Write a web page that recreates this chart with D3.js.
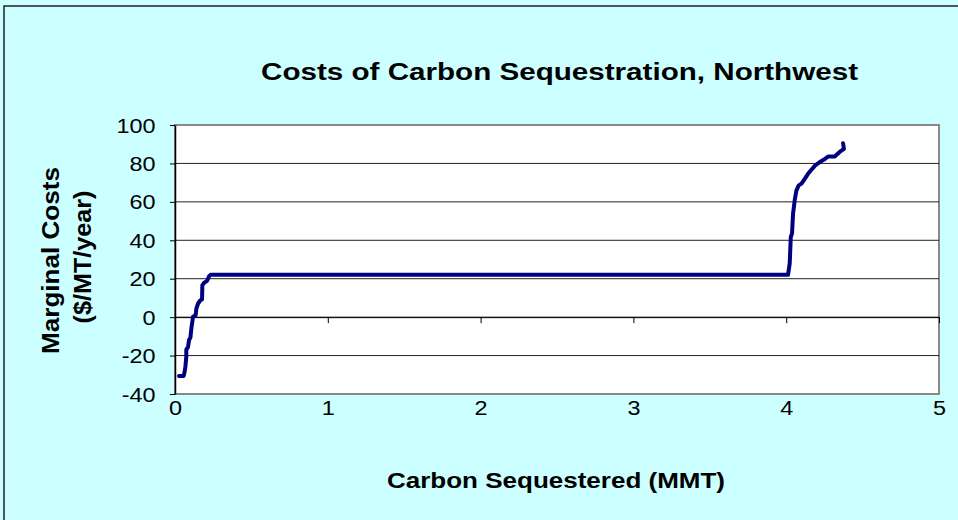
<!DOCTYPE html>
<html><head><meta charset="utf-8">
<script src="https://cdn.jsdelivr.net/npm/d3@7"></script>
<style>html,body{margin:0;padding:0;background:#CCFFFF;}svg{display:block;}</style>
</head><body>
<svg id="chart" width="958" height="520"></svg>
<script>
const titleText = "Costs of Carbon Sequestration, Northwest";
const xAxisTitle = "Carbon Sequestered (MMT)";
const yAxisTitle = ["Marginal Costs", "($/MT/year)"];
const xTicks = [0, 1, 2, 3, 4, 5];
const yTicks = [-40, -20, 0, 20, 40, 60, 80, 100];
// Carbon sequestered (MMT)
const carbon = [0.026, 0.057, 0.063, 0.068, 0.074, 0.074, 0.085, 0.092, 0.101, 0.107, 0.118, 0.135, 0.140, 0.151, 0.166, 0.177, 0.179, 0.190, 0.210, 0.223, 0.232,
  4.012, 4.023, 4.030, 4.038, 4.045, 4.056, 4.067, 4.082, 4.100, 4.117, 4.143, 4.165, 4.190, 4.220, 4.248, 4.274, 4.317, 4.350, 4.378, 4.372];
// Marginal cost ($/MT/year)
const cost = [-30.6, -30.6, -28.4, -25.8, -20.6, -16.8, -15.7, -11.9, -10.6, -5.9, 0.2, 1.0, 4.5, 7.1, 8.8, 9.2, 16.6, 17.8, 18.9, 21.3, 22.0,
  22.0, 28.0, 41.7, 43.5, 54.0, 61.0, 66.0, 68.6, 69.5, 71.5, 74.6, 76.7, 79.0, 80.7, 82.0, 83.6, 83.6, 86.0, 87.6, 90.5];

const svg = d3.select("#chart");
const FONT = "Arial, 'Liberation Sans', sans-serif";
const L = 175, R = 939, T = 125, B = 394;
const x = d3.scaleLinear().domain([0, 5]).range([L, R]);
const y = d3.scaleLinear().domain([-40, 100]).range([B, T]);

// outer border
svg.append("rect").attr("x", 4).attr("y", 6).attr("width", 960).attr("height", 520)
  .attr("fill", "#CCFFFF").attr("stroke", "#222").attr("stroke-width", 1.5);

// plot area
svg.append("rect").attr("x", L).attr("y", T).attr("width", R - L).attr("height", B - T)
  .attr("fill", "#fff").attr("stroke", "#888").attr("stroke-width", 2);

// gridlines
svg.append("g").selectAll("line").data(yTicks.filter(d => d > -40 && d < 100)).join("line")
  .attr("x1", L).attr("x2", R).attr("y1", d => y(d)).attr("y2", d => y(d))
  .attr("stroke", "#222").attr("stroke-width", 1);

// y axis
const yAxis = svg.append("g").attr("transform", `translate(${L},0)`)
  .call(d3.axisLeft(y).tickValues(yTicks).tickSize(5).tickSizeOuter(0).tickFormat(d => String(d)));
yAxis.select(".domain").attr("stroke", "#000").attr("stroke-width", 1.5);
yAxis.selectAll(".tick line").attr("stroke", "#000");
yAxis.selectAll("text").attr("font-family", FONT).attr("font-size", 19.5).attr("fill", "#000")
  .attr("x", -19.5).attr("dy", "0.36em");

// x axis at y = 0
const xAxis = svg.append("g").attr("transform", `translate(0,${y(0)})`)
  .call(d3.axisBottom(x).tickValues(xTicks).tickSize(6).tickSizeOuter(0).tickFormat(d => String(d)));
xAxis.select(".domain").attr("stroke", "#000").attr("stroke-width", 1);
xAxis.selectAll(".tick line").attr("stroke", "#000");
xAxis.selectAll("text").attr("font-family", FONT).attr("font-size", 19.5).attr("fill", "#000")
  .attr("y", 415 - y(0)).attr("dy", 0);

// stretch tick labels horizontally
svg.selectAll(".tick text").each(function() {
  const w = this.getComputedTextLength();
  d3.select(this).attr("textLength", w * 1.2).attr("lengthAdjust", "spacingAndGlyphs");
});

// data line
const pts = carbon.map((c, i) => [c, cost[i]]);
svg.append("path").datum(pts)
  .attr("d", d3.line().x(d => x(d[0])).y(d => y(d[1])))
  .attr("fill", "none").attr("stroke", "#000080").attr("stroke-width", 4)
  .attr("stroke-linejoin", "round").attr("stroke-linecap", "round");

// title
svg.append("text").attr("x", 559.5).attr("y", 80).attr("text-anchor", "middle")
  .attr("font-family", FONT).attr("font-weight", "bold").attr("font-size", 23)
  .attr("textLength", 597).attr("lengthAdjust", "spacingAndGlyphs").text(titleText);

// x title
svg.append("text").attr("x", 556).attr("y", 488).attr("text-anchor", "middle")
  .attr("font-family", FONT).attr("font-weight", "bold").attr("font-size", 22)
  .attr("textLength", 338).attr("lengthAdjust", "spacingAndGlyphs").text(xAxisTitle);

// y title
svg.append("text").attr("transform", "translate(59,260.5) rotate(-90)").attr("text-anchor", "middle")
  .attr("font-family", FONT).attr("font-weight", "bold").attr("font-size", 24)
  .attr("textLength", 187).attr("lengthAdjust", "spacingAndGlyphs").text(yAxisTitle[0]);
svg.append("text").attr("transform", "translate(91,257) rotate(-90)").attr("text-anchor", "middle")
  .attr("font-family", FONT).attr("font-weight", "bold").attr("font-size", 24)
  .attr("textLength", 133).attr("lengthAdjust", "spacingAndGlyphs").text(yAxisTitle[1]);
</script>
</body></html>
